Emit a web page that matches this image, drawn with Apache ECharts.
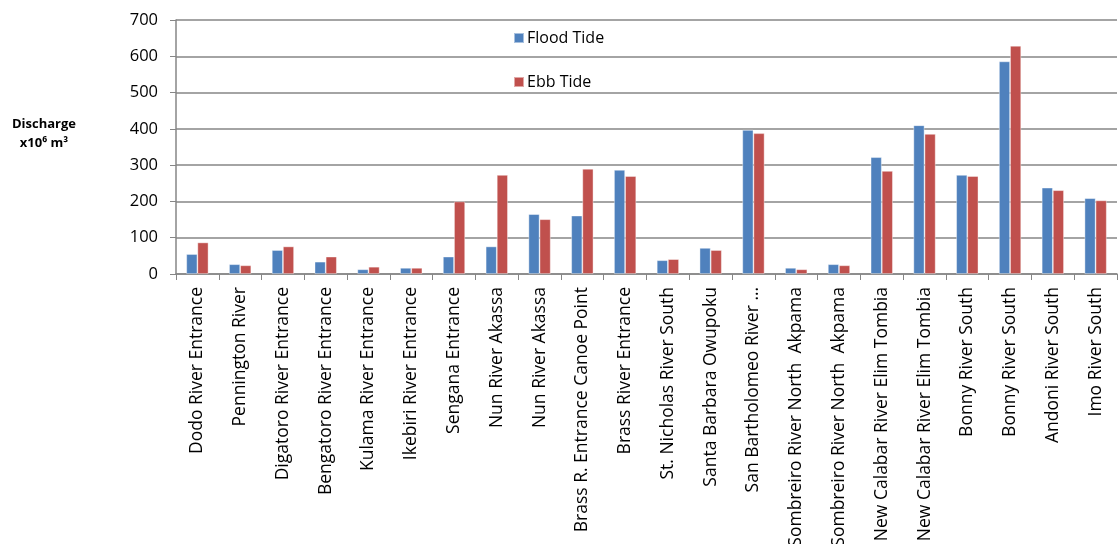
<!DOCTYPE html>
<html>
<head>
<meta charset="utf-8">
<script src="https://cdn.jsdelivr.net/npm/echarts@6/dist/echarts.min.js"></script>
<style>
  html, body { margin: 0; padding: 0; background: #fff; }
  #chart { width: 1119px; height: 544px; }
</style>
</head>
<body>
<div id="chart"></div>
<script>
// Tidal discharge per station (x10^6 m^3)
const stations = [
  'Dodo River Entrance', 'Pennington River', 'Digatoro River Entrance',
  'Bengatoro River Entrance', 'Kulama River Entrance', 'Ikebiri River Entrance',
  'Sengana Entrance', 'Nun River Akassa', 'Nun River Akassa',
  'Brass R. Entrance Canoe Point', 'Brass River Entrance', 'St. Nicholas River South',
  'Santa Barbara Owupoku', 'San Bartholomeo River \u2026', 'Sombreiro River North  Akpama',
  'Sombreiro River North  Akpama', 'New Calabar River Elim Tombia', 'New Calabar River Elim Tombia',
  'Bonny River South', 'Bonny River South', 'Andoni River South', 'Imo River South'
];
const floodTide = [55, 27, 66, 34, 13, 17, 48, 76, 165, 161, 287, 38, 72, 397, 17, 27, 322, 410, 273, 586, 238, 209];
const ebbTide   = [87, 24, 76, 48, 20, 17, 200, 273, 151, 290, 270, 41, 66, 388, 13, 24, 284, 386, 270, 629, 231, 203];
const yTicks = { min: 0, max: 700, interval: 100 };

const chart = echarts.init(document.getElementById('chart'));
const font = 'Open Sans';
chart.setOption({
  animation: false,
  textStyle: { fontFamily: font },
  grid: { left: 176, right: 2, top: 20, bottom: 270, outerBoundsMode: 'none', containLabel: false },
  legend: {
    orient: 'vertical',
    left: 508,
    top: 23,
    itemWidth: 10,
    itemHeight: 10,
    itemGap: 24,
    icon: 'rect',
    textStyle: { fontFamily: font, fontSize: 16, color: '#000', lineHeight: 20, padding: [0, 0, 0, -2] },
    data: ['Flood Tide', 'Ebb Tide']
  },
  graphic: [
    {
      type: 'text',
      x: 44,
      y: 124,
      style: {
        text: 'Discharge',
        fontFamily: font, fontSize: 13, fontWeight: 'bold',
        align: 'center', verticalAlign: 'middle', fill: '#000'
      }
    },
    {
      type: 'text',
      x: 44,
      y: 143,
      style: {
        text: 'x10\u2076 m\u00b3',
        fontFamily: font, fontSize: 13, fontWeight: 'bold',
        align: 'center', verticalAlign: 'middle', fill: '#000'
      }
    }
  ],
  xAxis: {
    type: 'category',
    data: stations,
    axisLine: { lineStyle: { color: '#868686', width: 1.5 } },
    axisTick: { show: true, length: 6, lineStyle: { color: '#868686' } },
    axisLabel: {
      interval: 0,
      rotate: 90,
      margin: 13,
      color: '#000',
      fontFamily: font,
      fontSize: 17.5,
      hideOverlap: false
    }
  },
  yAxis: {
    type: 'value',
    min: yTicks.min,
    max: yTicks.max,
    interval: yTicks.interval,
    axisLine: { show: true, lineStyle: { color: '#868686', width: 1.5 } },
    axisTick: { show: true, length: 6, lineStyle: { color: '#868686' } },
    axisLabel: { color: '#000', fontFamily: font, fontSize: 16.5, margin: 18 },
    splitLine: { lineStyle: { color: '#868686', width: 1.5 } }
  },
  series: [
    {
      name: 'Flood Tide',
      type: 'bar',
      data: floodTide,
      barGap: '0%',
      barCategoryGap: '48%',
      itemStyle: { color: '#4F81BD', borderColor: 'rgba(255,255,255,0.5)', borderWidth: 0.8 }
    },
    {
      name: 'Ebb Tide',
      type: 'bar',
      data: ebbTide,
      itemStyle: { color: '#C0504D', borderColor: 'rgba(255,255,255,0.5)', borderWidth: 0.8 }
    }
  ]
});
</script>
</body>
</html>
